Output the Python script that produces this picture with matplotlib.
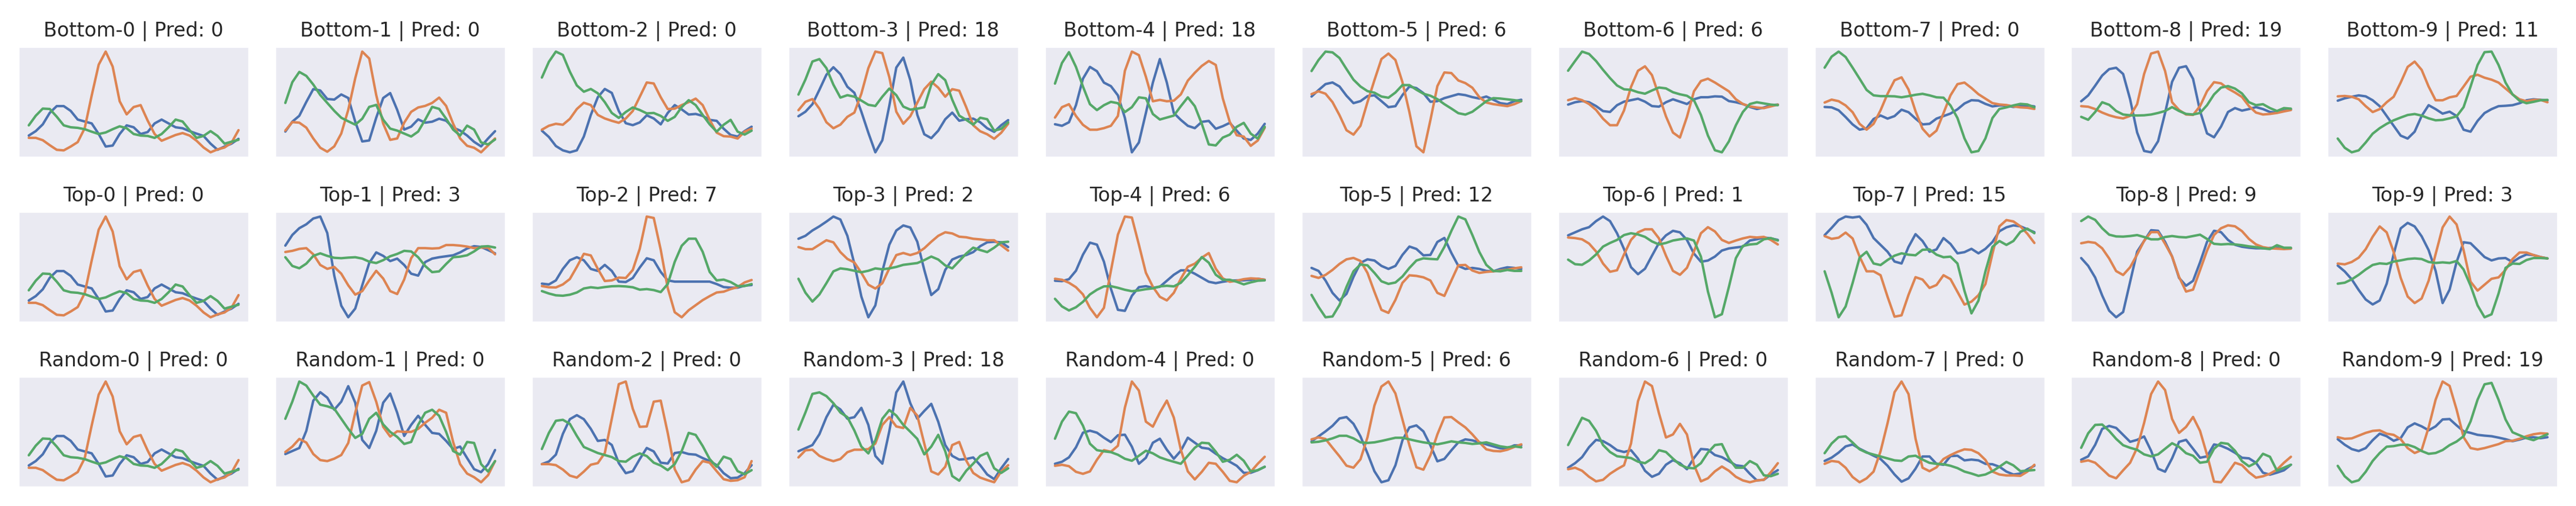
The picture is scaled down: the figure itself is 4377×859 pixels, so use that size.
import numpy as np
import matplotlib
matplotlib.use("Agg")
import matplotlib.pyplot as plt
import seaborn as sns

# channel values (ch0 = blue, ch1 = orange, ch2 = green)
s0_ch0 = [11.2, 13.5, 17.0, 23.0, 26.5, 26.5, 24.0, 19.5, 18.5, 17.5, 12.0, 5.5, 6.0, 12.0, 16.5, 15.5,
          12.0, 13.0, 17.5, 19.5, 17.5, 15.5, 15.0, 13.5, 12.2, 11.0, 7.0, 3.8, 5.5, 7.0, 9.5]
s0_ch1 = [10.0, 10.0, 8.8, 6.2, 3.8, 3.5, 5.5, 7.8, 15.0, 32.0, 48.0, 54.8, 47.0, 29.0, 22.2, 26.0,
          27.0, 19.0, 12.0, 8.5, 10.0, 11.5, 12.5, 11.2, 8.5, 5.0, 2.5, 4.0, 5.0, 7.5, 14.0]
s0_ch2 = [16.5, 21.5, 25.2, 25.0, 21.0, 16.5, 15.5, 15.2, 14.5, 13.2, 12.0, 12.8, 14.5, 16.0, 15.0, 12.0,
          11.2, 11.0, 10.0, 12.0, 15.5, 19.5, 18.5, 14.0, 10.0, 11.0, 13.5, 11.0, 7.0, 8.0, 9.0]

b1_ch0 = [13.0, 18.0, 21.0, 28.0, 34.5, 33.8, 29.5, 29.2, 31.8, 30.0, 18.0, 8.0, 8.5, 20.0, 30.0, 32.5,
          24.0, 14.0, 15.5, 19.2, 17.5, 18.0, 19.5, 18.5, 15.0, 13.5, 11.0, 7.8, 5.5, 9.5, 13.2]
b1_ch1 = [13.5, 17.8, 17.5, 15.0, 9.5, 4.8, 2.8, 5.5, 12.0, 24.0, 40.0, 53.5, 50.0, 31.5, 17.0, 8.8,
          9.5, 17.5, 23.0, 25.2, 26.0, 27.5, 30.2, 26.0, 17.0, 9.5, 5.8, 4.8, 2.5, 6.0, 9.5]
b1_ch2 = [27.5, 38.0, 43.2, 41.2, 36.8, 31.5, 27.5, 23.5, 20.0, 18.2, 16.5, 19.5, 25.5, 26.5, 19.0, 14.5,
          13.5, 12.0, 10.5, 13.0, 19.0, 25.5, 24.5, 19.5, 14.0, 11.0, 16.0, 14.0, 7.5, 6.5, 9.0]

b2_ch0 = [14.0, 10.8, 6.2, 4.0, 3.0, 4.0, 11.0, 22.0, 31.0, 35.2, 33.2, 24.0, 17.8, 16.8, 18.2, 21.8,
          20.2, 17.2, 23.0, 27.0, 24.8, 22.2, 22.5, 21.5, 19.5, 19.0, 15.0, 11.8, 11.0, 13.8, 16.0]
b2_ch1 = [14.5, 16.5, 17.5, 17.0, 20.0, 25.0, 28.2, 27.0, 22.0, 20.2, 19.0, 18.0, 20.2, 24.0, 31.2, 38.5,
          38.0, 31.0, 25.0, 25.2, 27.0, 28.5, 30.3, 27.0, 19.5, 13.0, 11.2, 11.0, 10.0, 13.5, 15.0]
b2_ch2 = [41.0, 49.0, 54.2, 52.5, 44.0, 37.0, 33.8, 35.2, 33.0, 28.5, 23.0, 20.5, 23.5, 25.8, 24.5, 22.8,
          23.0, 21.5, 19.0, 21.0, 26.0, 29.5, 27.0, 22.0, 17.2, 13.5, 17.0, 19.5, 13.5, 12.0, 14.0]

b3_ch0 = [18.0, 19.5, 22.0, 26.8, 31.8, 34.3, 32.0, 27.8, 25.8, 19.5, 12.5, 6.0, 10.0, 21.5, 34.2, 37.5,
          30.0, 18.5, 12.0, 10.7, 13.2, 17.0, 19.2, 16.5, 17.0, 17.2, 16.0, 14.0, 12.8, 15.0, 16.7]
b3_ch1 = [20.0, 22.8, 23.7, 20.5, 16.0, 14.0, 15.2, 17.8, 19.2, 25.5, 34.0, 39.5, 39.0, 31.0, 19.5, 15.5,
          18.0, 22.5, 27.0, 29.5, 27.5, 24.5, 27.0, 26.5, 21.0, 15.0, 13.0, 12.0, 10.5, 12.5, 15.5]
b3_ch2 = [25.2, 30.2, 36.2, 37.0, 34.0, 28.5, 24.2, 25.0, 24.5, 23.2, 21.8, 21.4, 24.5, 27.2, 25.0, 21.2,
          20.2, 20.5, 21.0, 28.5, 32.0, 30.0, 23.5, 18.2, 16.8, 15.2, 17.5, 17.0, 13.2, 13.8, 16.0]

b4_ch0 = [16.8, 16.0, 17.8, 26.5, 40.0, 46.0, 43.8, 38.0, 36.2, 31.5, 20.0, 2.5, 7.5, 22.5, 38.0, 50.0,
          38.0, 22.5, 19.0, 16.0, 14.8, 18.0, 18.5, 14.5, 15.8, 17.5, 13.5, 9.5, 8.8, 12.0, 17.0]
b4_ch1 = [20.2, 25.5, 27.0, 21.0, 16.5, 14.0, 14.0, 14.8, 16.0, 21.0, 44.0, 53.8, 52.0, 41.0, 28.5, 29.2,
          28.5, 28.8, 32.0, 39.0, 43.0, 46.5, 49.0, 47.0, 30.0, 18.0, 11.2, 10.5, 5.8, 8.5, 15.0]
b4_ch2 = [37.5, 48.0, 53.5, 46.0, 36.0, 27.0, 24.0, 26.5, 28.2, 27.5, 23.0, 25.5, 30.5, 30.0, 22.0, 19.2,
          20.2, 21.2, 26.0, 30.5, 26.0, 17.0, 6.5, 6.0, 10.0, 11.5, 15.5, 17.5, 12.0, 9.5, 15.5]

b5_ch0 = [31.8, 35.0, 38.0, 38.8, 36.8, 32.2, 28.5, 29.5, 32.0, 32.4, 29.5, 26.5, 27.0, 32.5, 36.8, 36.0,
          33.5, 29.2, 29.5, 31.0, 32.0, 33.0, 32.5, 31.5, 30.8, 31.8, 30.2, 28.5, 28.0, 29.5, 30.2]
b5_ch1 = [33.0, 34.4, 33.2, 29.0, 22.5, 15.0, 12.8, 17.2, 29.0, 40.0, 50.5, 53.2, 50.0, 39.0, 24.0, 7.0,
          4.0, 20.0, 37.0, 43.8, 43.5, 39.8, 38.5, 36.2, 31.5, 28.8, 28.0, 27.5, 27.0, 28.0, 29.5]
b5_ch2 = [44.5, 50.0, 54.2, 53.8, 51.0, 45.5, 40.2, 36.8, 34.5, 33.7, 31.8, 31.2, 33.8, 37.5, 37.5, 35.2,
          33.2, 32.2, 30.5, 28.0, 25.8, 23.5, 22.8, 24.2, 26.8, 29.5, 31.0, 30.8, 30.4, 30.0, 29.5]

b6_ch0 = [22.0, 22.8, 23.2, 22.8, 21.5, 19.8, 19.5, 21.8, 23.0, 23.5, 24.0, 23.0, 21.5, 21.3, 22.8, 23.8,
          23.0, 22.2, 23.8, 24.5, 24.5, 24.8, 24.7, 23.2, 22.8, 22.2, 21.2, 20.5, 21.0, 21.8, 22.0]
b6_ch1 = [23.5, 24.2, 23.5, 22.2, 20.2, 17.2, 15.0, 15.0, 20.0, 28.0, 33.5, 35.0, 32.0, 25.0, 18.0, 12.5,
          10.8, 17.8, 26.5, 30.0, 30.8, 29.5, 28.0, 26.5, 23.8, 22.2, 21.4, 21.0, 20.8, 21.4, 22.0]
b6_ch2 = [33.5, 36.8, 40.0, 39.2, 36.8, 33.8, 31.0, 28.5, 27.2, 27.0, 26.2, 25.7, 26.8, 27.8, 27.5, 26.2,
          25.5, 25.0, 23.5, 18.5, 11.5, 6.5, 5.8, 9.5, 15.0, 19.5, 22.2, 22.8, 22.4, 22.0, 21.8]

b7_ch0 = [26.2, 26.0, 24.5, 21.0, 17.2, 14.5, 15.2, 20.0, 21.8, 20.2, 21.5, 24.8, 23.5, 20.2, 17.2, 17.5,
          20.2, 21.5, 22.8, 25.0, 28.0, 29.7, 29.5, 27.8, 26.5, 27.0, 27.0, 26.2, 26.8, 27.0, 26.5]
b7_ch1 = [28.5, 30.0, 29.2, 27.0, 23.5, 17.5, 14.5, 17.5, 24.5, 33.0, 40.0, 41.5, 35.2, 24.0, 15.0, 11.0,
          14.0, 23.0, 32.2, 38.0, 38.8, 36.0, 32.8, 30.5, 28.2, 27.5, 27.2, 26.5, 26.0, 25.8, 25.2]
b7_ch2 = [46.5, 52.2, 54.8, 52.0, 46.5, 40.8, 35.0, 32.2, 31.8, 31.8, 31.7, 31.2, 31.8, 32.5, 33.0, 32.2,
          31.2, 31.0, 27.0, 20.5, 10.0, 2.8, 3.5, 10.0, 20.5, 25.2, 26.0, 27.0, 27.8, 27.5, 26.0]

b8_ch0 = [29.0, 32.0, 37.0, 42.2, 45.5, 46.2, 43.0, 30.0, 13.0, 3.5, 2.8, 8.5, 23.0, 39.0, 46.2, 47.0,
          40.5, 24.0, 12.5, 10.5, 16.0, 23.5, 25.5, 24.2, 25.0, 26.0, 25.0, 23.5, 23.2, 24.2, 24.8]
b8_ch1 = [26.5, 26.2, 25.0, 23.2, 21.8, 20.8, 20.2, 21.5, 27.5, 43.0, 53.5, 54.5, 44.5, 28.5, 24.5, 22.2,
          22.0, 26.5, 34.2, 38.8, 38.2, 35.5, 33.5, 31.2, 26.5, 23.2, 22.2, 22.5, 23.0, 23.8, 24.5]
b8_ch2 = [21.0, 19.5, 23.5, 28.5, 27.2, 24.0, 22.2, 21.8, 21.7, 21.8, 22.2, 23.0, 24.0, 26.0, 24.0, 22.5,
          22.2, 23.0, 27.0, 32.5, 36.0, 36.8, 35.5, 33.0, 28.5, 27.0, 27.5, 25.5, 24.0, 25.5, 25.2]

b9_ch0 = [28.8, 30.0, 30.8, 31.5, 31.0, 29.0, 26.0, 21.0, 16.0, 11.0, 9.5, 13.0, 21.0, 26.5, 24.5, 22.2,
          23.2, 21.0, 14.0, 13.0, 18.5, 22.5, 24.5, 26.0, 26.2, 26.5, 27.5, 29.0, 29.5, 29.2, 29.0]
b9_ch1 = [31.0, 31.2, 30.8, 29.5, 26.0, 23.0, 24.5, 28.0, 30.8, 38.0, 46.0, 48.7, 44.5, 36.0, 29.0, 29.0,
          30.5, 31.2, 36.0, 41.0, 42.0, 40.5, 39.5, 38.0, 35.0, 32.0, 29.5, 28.5, 29.2, 29.2, 28.0]
b9_ch2 = [9.5, 4.8, 2.5, 3.5, 7.5, 12.0, 14.8, 17.0, 18.8, 20.2, 21.5, 22.0, 21.2, 19.8, 18.8, 19.0,
          19.8, 20.8, 25.5, 36.0, 47.0, 53.5, 53.8, 47.0, 38.0, 32.0, 28.8, 27.5, 28.2, 29.0, 29.2]

t1_ch0 = [40.5, 46.0, 49.5, 51.5, 54.5, 55.5, 47.0, 25.0, 9.5, 3.5, 8.0, 20.0, 31.5, 37.0, 35.2, 32.5,
          33.8, 30.5, 26.0, 25.0, 32.0, 33.8, 34.5, 35.0, 35.5, 37.0, 39.0, 40.2, 39.8, 38.2, 36.5]
t1_ch1 = [37.2, 37.8, 38.8, 39.2, 36.0, 30.5, 28.5, 29.5, 26.0, 20.0, 15.2, 17.0, 22.5, 27.5, 23.5, 17.0,
          15.5, 23.0, 34.0, 39.2, 39.2, 39.0, 39.2, 40.8, 40.8, 40.5, 40.0, 39.2, 39.5, 39.5, 36.0]
t1_ch2 = [34.5, 30.0, 28.8, 31.2, 35.2, 36.5, 35.2, 34.2, 34.0, 34.3, 34.5, 33.8, 32.2, 31.5, 33.0, 35.0,
          36.2, 37.8, 37.5, 34.5, 30.0, 26.8, 27.2, 31.0, 34.5, 34.8, 35.5, 37.5, 40.0, 40.2, 39.5]

t2_ch0 = [21.2, 20.8, 22.8, 28.5, 32.8, 34.3, 32.8, 28.5, 27.5, 30.5, 27.5, 22.2, 22.0, 24.0, 29.2, 33.8,
          32.8, 27.0, 22.8, 22.2, 22.2, 22.2, 22.2, 22.2, 22.2, 21.0, 19.5, 19.2, 19.2, 20.2, 20.5]
t2_ch1 = [20.0, 19.4, 19.3, 20.8, 23.5, 29.5, 36.0, 35.2, 28.5, 22.5, 22.8, 24.2, 24.0, 28.0, 38.5, 54.5,
          53.8, 38.0, 19.0, 7.0, 4.5, 8.0, 10.5, 13.0, 15.0, 16.8, 17.2, 18.5, 19.5, 21.8, 23.0]
t2_ch2 = [17.5, 16.3, 15.4, 15.2, 15.7, 16.8, 18.8, 19.4, 19.0, 19.5, 19.9, 20.0, 19.8, 19.4, 18.2, 18.5,
          18.0, 17.0, 21.0, 32.0, 40.0, 43.5, 43.5, 37.0, 27.0, 22.8, 23.2, 22.0, 20.0, 20.0, 21.0]

t3_ch0 = [31.0, 32.0, 33.8, 35.2, 36.8, 38.5, 37.5, 32.0, 22.5, 11.5, 4.5, 8.5, 20.0, 29.0, 33.8, 35.5,
          34.8, 30.0, 20.5, 12.0, 14.0, 20.5, 24.0, 25.0, 25.5, 26.5, 28.5, 29.8, 30.0, 29.8, 28.2]
t3_ch1 = [28.2, 27.5, 27.5, 29.0, 30.5, 29.8, 26.5, 24.2, 23.0, 19.5, 15.5, 14.2, 16.0, 21.0, 25.5, 26.2,
          25.5, 26.2, 27.8, 30.0, 32.0, 33.2, 32.8, 31.7, 31.5, 31.0, 30.8, 30.5, 30.5, 28.8, 27.0]
t3_ch2 = [17.5, 12.8, 9.8, 12.2, 16.0, 20.0, 21.0, 20.7, 20.2, 19.7, 20.2, 21.0, 20.7, 21.0, 21.5, 22.2,
          22.5, 22.8, 23.8, 25.0, 24.0, 22.0, 21.0, 23.5, 26.0, 28.0, 27.2, 26.5, 28.0, 29.8, 30.0]

t4_ch0 = [22.0, 21.8, 22.8, 27.0, 35.0, 41.0, 40.0, 31.5, 18.0, 7.5, 7.0, 14.5, 18.8, 19.3, 18.5, 19.0,
          22.0, 25.0, 27.2, 27.2, 25.5, 23.5, 21.5, 20.8, 21.5, 22.0, 22.2, 22.2, 22.5, 23.0, 22.5]
t4_ch1 = [23.0, 22.5, 21.0, 18.8, 15.2, 8.5, 3.8, 8.5, 27.0, 45.0, 54.0, 53.5, 40.0, 26.0, 19.0, 14.0,
          12.2, 16.0, 23.0, 29.0, 30.5, 33.5, 35.8, 28.0, 23.2, 21.5, 22.0, 22.8, 23.2, 23.0, 22.5]
t4_ch2 = [13.0, 9.2, 7.2, 8.8, 11.5, 15.2, 17.5, 19.2, 19.3, 18.5, 17.5, 16.8, 17.2, 17.8, 18.2, 19.2,
          19.5, 19.2, 21.0, 24.8, 29.0, 33.8, 31.0, 25.0, 22.5, 22.5, 21.5, 20.2, 21.2, 22.0, 22.2]

t5_ch0 = [29.5, 28.0, 23.2, 17.0, 13.2, 16.5, 25.0, 32.0, 33.8, 33.2, 30.5, 29.0, 30.5, 36.0, 40.2, 39.0,
          35.8, 36.0, 42.5, 44.5, 37.0, 30.5, 29.0, 29.5, 29.0, 28.0, 27.8, 29.0, 29.8, 29.5, 29.0]
t5_ch1 = [25.5, 24.5, 26.0, 28.5, 31.5, 33.8, 34.5, 33.0, 27.0, 17.5, 8.5, 7.0, 13.5, 22.0, 25.8, 25.5,
          24.8, 23.2, 17.0, 15.5, 23.2, 30.8, 31.0, 28.2, 27.0, 27.5, 27.8, 28.2, 28.6, 29.3, 29.8]
t5_ch2 = [16.0, 10.0, 4.8, 5.2, 11.0, 20.0, 27.8, 31.2, 30.8, 27.0, 22.8, 21.5, 22.2, 25.2, 29.5, 33.2,
          34.3, 34.0, 33.8, 40.0, 48.0, 55.2, 53.8, 46.0, 37.5, 31.0, 28.0, 27.8, 28.5, 28.0, 28.0]

t6_ch0 = [32.5, 33.5, 34.5, 35.2, 37.2, 38.7, 37.2, 33.2, 28.0, 22.0, 19.7, 21.5, 25.8, 30.0, 32.5, 34.0,
          33.5, 31.0, 26.5, 23.8, 24.2, 25.5, 27.5, 28.2, 28.5, 28.8, 30.8, 31.2, 31.8, 31.5, 31.0]
t6_ch1 = [31.8, 31.6, 31.2, 29.8, 27.2, 23.2, 20.5, 21.0, 26.2, 31.0, 33.5, 34.5, 34.5, 31.5, 25.8, 20.8,
          19.5, 21.8, 27.2, 33.2, 35.2, 33.8, 31.0, 30.0, 30.8, 31.5, 32.0, 31.8, 32.0, 31.0, 29.5]
t6_ch2 = [24.5, 23.0, 22.8, 24.2, 26.2, 28.8, 30.0, 31.0, 32.6, 33.2, 32.8, 32.0, 30.5, 29.5, 30.0, 30.8,
          31.2, 31.5, 30.8, 25.5, 14.0, 5.5, 6.5, 15.5, 25.0, 29.0, 29.5, 29.7, 31.2, 31.6, 30.8]

t7_ch0 = [46.5, 50.2, 54.2, 56.0, 55.5, 56.0, 51.8, 45.0, 41.5, 38.0, 33.0, 32.0, 40.5, 47.0, 43.5, 38.0,
          39.2, 45.0, 42.0, 37.2, 37.8, 39.5, 37.2, 39.5, 43.0, 48.5, 50.5, 51.5, 51.0, 49.5, 48.0]
t7_ch1 = [46.0, 44.6, 45.2, 47.8, 44.8, 35.5, 28.0, 28.0, 26.0, 15.0, 4.8, 5.5, 16.0, 25.0, 23.8, 19.5,
          21.0, 26.0, 24.0, 17.5, 11.0, 12.5, 15.8, 21.5, 37.0, 51.0, 54.2, 53.5, 51.0, 47.2, 42.5]
t7_ch2 = [28.0, 17.0, 4.5, 10.0, 22.0, 35.0, 38.0, 32.0, 31.2, 33.8, 36.0, 37.2, 36.5, 36.2, 39.0, 39.2,
          36.5, 35.2, 35.5, 32.0, 18.0, 6.5, 13.0, 28.0, 40.5, 43.5, 41.5, 43.5, 48.2, 49.8, 47.5]

t8_ch0 = [34.2, 30.2, 24.2, 15.0, 7.2, 3.8, 6.5, 22.0, 37.5, 43.0, 48.5, 48.2, 42.5, 35.0, 24.0, 20.0,
          22.5, 32.0, 42.5, 48.2, 47.5, 43.5, 41.0, 40.0, 39.5, 39.2, 39.2, 39.4, 39.5, 39.2, 39.2]
t8_ch1 = [41.8, 42.5, 42.0, 39.2, 34.0, 27.5, 25.5, 29.5, 36.0, 43.0, 47.5, 47.5, 41.5, 35.0, 24.5, 17.0,
          18.0, 28.0, 38.0, 46.0, 49.5, 51.0, 50.5, 48.0, 44.0, 41.2, 39.8, 39.2, 39.0, 38.8, 39.0]
t8_ch2 = [53.2, 55.5, 53.8, 49.5, 46.2, 45.3, 45.2, 45.5, 46.0, 45.0, 43.8, 43.8, 45.0, 45.5, 45.0, 44.8,
          45.5, 46.2, 44.0, 41.5, 41.2, 41.4, 41.2, 40.8, 40.2, 39.8, 39.2, 38.8, 40.8, 39.5, 39.5]

t9_ch0 = [30.2, 27.2, 23.2, 17.8, 13.0, 10.5, 12.5, 21.0, 36.0, 49.0, 51.8, 50.0, 45.0, 38.0, 27.5, 11.2,
          18.0, 32.0, 42.0, 41.5, 38.0, 34.5, 32.8, 33.8, 34.0, 32.0, 34.2, 35.8, 35.5, 34.5, 33.8]
t9_ch1 = [31.2, 30.8, 32.0, 34.2, 38.5, 44.8, 50.0, 47.0, 37.0, 24.0, 14.5, 11.2, 13.5, 22.5, 36.0, 49.5,
          55.0, 51.0, 38.0, 22.0, 17.5, 20.5, 23.5, 24.2, 28.0, 33.5, 36.8, 36.8, 35.5, 34.5, 33.8]
t9_ch2 = [21.0, 21.5, 23.2, 25.5, 28.2, 30.5, 31.3, 31.0, 32.2, 32.8, 33.5, 33.8, 33.5, 32.0, 31.5, 31.8,
          31.5, 32.5, 28.2, 20.0, 10.0, 4.0, 5.5, 16.0, 29.0, 31.2, 31.0, 33.0, 34.0, 34.0, 33.8]

r1_ch0 = [19.5, 21.0, 22.5, 31.0, 46.0, 50.2, 47.5, 41.5, 45.5, 53.2, 45.0, 26.5, 22.5, 31.0, 45.0, 49.5,
          40.0, 28.5, 34.0, 38.5, 34.0, 30.0, 29.5, 26.0, 22.0, 23.2, 17.5, 12.0, 10.5, 14.5, 21.5]
r1_ch1 = [20.5, 23.2, 27.0, 25.2, 19.5, 16.5, 16.0, 17.2, 19.0, 25.0, 40.0, 53.5, 55.2, 45.5, 33.0, 28.2,
          30.8, 30.5, 30.5, 32.0, 35.0, 37.5, 41.5, 40.0, 25.5, 14.5, 9.8, 8.0, 5.5, 9.0, 16.0]
r1_ch2 = [37.0, 45.5, 55.5, 53.5, 48.5, 44.0, 43.2, 42.0, 37.0, 32.0, 27.5, 29.5, 37.0, 40.0, 34.2, 30.5,
          28.0, 24.5, 25.5, 34.0, 40.0, 41.5, 38.5, 30.5, 21.0, 19.2, 25.5, 25.0, 14.5, 10.8, 16.0]

r2_ch0 = [14.5, 15.8, 19.2, 29.5, 36.8, 38.8, 36.8, 32.0, 26.0, 26.5, 24.0, 15.0, 10.0, 11.0, 17.0, 22.5,
          20.8, 15.2, 14.8, 20.0, 20.5, 19.5, 19.2, 17.5, 16.0, 14.0, 10.0, 7.5, 7.8, 10.0, 14.0]
r2_ch1 = [14.5, 14.5, 14.0, 11.8, 8.8, 7.8, 10.8, 14.2, 15.0, 20.0, 37.0, 54.2, 55.5, 42.0, 33.0, 33.2,
          45.5, 46.0, 30.0, 12.0, 5.5, 6.5, 11.8, 16.0, 15.2, 11.0, 7.0, 6.2, 6.5, 8.0, 16.0]
r2_ch2 = [22.0, 30.0, 36.0, 36.5, 34.5, 28.5, 23.0, 21.5, 20.0, 19.0, 18.0, 16.0, 15.7, 18.2, 19.8, 18.5,
          15.2, 13.8, 11.5, 14.5, 21.0, 30.0, 29.0, 23.5, 17.0, 13.2, 18.2, 17.0, 11.0, 9.5, 11.5]

r3_ch0 = [14.5, 15.5, 16.5, 20.0, 25.5, 29.5, 28.0, 25.0, 25.5, 28.5, 23.0, 13.0, 10.5, 21.0, 33.5, 37.0,
          30.0, 25.0, 27.5, 29.8, 24.0, 16.5, 13.0, 11.8, 12.0, 12.5, 10.0, 7.0, 5.5, 9.0, 12.0]
r3_ch1 = [12.5, 14.8, 15.0, 13.0, 12.0, 11.3, 12.0, 14.2, 15.0, 15.0, 15.2, 17.0, 23.0, 25.5, 22.5, 22.0,
          28.5, 26.0, 17.0, 8.0, 7.0, 9.5, 16.5, 17.5, 11.5, 7.5, 6.0, 5.2, 4.5, 8.0, 10.0]
r3_ch2 = [21.5, 27.0, 33.0, 33.5, 32.3, 30.0, 27.0, 25.5, 21.2, 16.0, 13.8, 18.0, 25.0, 27.8, 26.0, 23.0,
          20.8, 18.5, 13.5, 16.0, 19.8, 14.5, 6.5, 5.0, 8.2, 10.5, 13.0, 14.0, 9.0, 7.5, 9.0]

r4_ch0 = [15.0, 16.0, 18.2, 23.2, 30.5, 31.5, 30.5, 28.0, 25.8, 29.2, 29.5, 23.5, 15.0, 18.0, 25.5, 27.5,
          22.0, 17.5, 21.5, 28.0, 25.5, 23.0, 22.5, 20.0, 17.8, 16.0, 14.0, 10.5, 10.5, 11.8, 13.5]
r4_ch1 = [14.0, 14.5, 13.8, 11.0, 10.0, 11.2, 17.0, 21.8, 21.0, 24.0, 43.0, 56.0, 51.5, 36.0, 33.5, 40.5,
          46.5, 38.0, 22.0, 11.2, 7.2, 11.0, 15.5, 15.0, 11.0, 6.5, 5.8, 9.0, 11.0, 15.0, 18.5]
r4_ch2 = [27.5, 36.0, 41.0, 40.2, 34.0, 25.0, 21.8, 21.2, 20.8, 19.5, 17.5, 16.5, 19.0, 21.5, 20.2, 18.2,
          17.0, 16.0, 15.0, 19.0, 23.0, 25.5, 25.2, 21.0, 16.0, 17.0, 19.5, 16.5, 11.2, 11.8, 13.5]

r5_ch0 = [26.0, 28.5, 31.0, 33.8, 37.5, 38.2, 34.8, 28.5, 20.0, 11.0, 5.5, 6.5, 14.0, 26.5, 33.0, 34.0,
          31.0, 24.0, 16.0, 17.2, 21.5, 25.5, 27.0, 26.5, 25.5, 24.5, 23.5, 22.5, 22.5, 24.0, 24.0]
r5_ch1 = [27.0, 28.0, 27.2, 22.8, 18.5, 13.8, 12.8, 17.0, 28.0, 44.0, 53.5, 56.0, 50.0, 37.0, 24.0, 13.0,
          11.8, 19.0, 29.5, 38.0, 38.2, 35.5, 33.0, 29.5, 25.5, 22.0, 21.2, 21.0, 21.8, 23.2, 24.5]
r5_ch2 = [25.5, 25.8, 26.5, 27.5, 28.8, 28.8, 27.5, 25.5, 25.2, 25.5, 26.2, 27.0, 27.8, 27.8, 27.0, 26.2,
          25.5, 25.0, 24.5, 25.2, 26.0, 25.5, 25.2, 24.7, 25.0, 25.5, 24.5, 23.5, 23.0, 23.5, 23.0]

r6_ch0 = [9.0, 10.5, 12.5, 15.8, 18.2, 17.8, 16.5, 14.8, 14.2, 14.8, 12.0, 8.0, 6.0, 7.0, 10.0, 11.5,
          10.5, 8.5, 12.2, 15.2, 15.0, 13.2, 12.5, 11.2, 9.8, 9.5, 7.0, 4.8, 5.0, 6.8, 8.2]
r6_ch1 = [8.5, 9.0, 8.0, 6.0, 4.5, 5.0, 7.0, 8.5, 9.8, 17.0, 31.0, 37.5, 36.0, 27.0, 19.0, 20.0,
          23.5, 20.0, 10.0, 4.5, 5.5, 7.8, 9.4, 8.0, 6.0, 4.8, 4.2, 4.8, 5.0, 7.5, 10.5]
r6_ch2 = [16.5, 21.0, 25.5, 24.5, 21.2, 16.5, 14.2, 12.8, 12.5, 12.2, 11.0, 10.5, 12.0, 14.8, 14.2, 12.0,
          10.0, 9.0, 8.8, 10.5, 14.0, 16.5, 16.8, 12.0, 9.0, 9.0, 11.2, 10.0, 6.5, 6.2, 7.0]

r7_ch0 = [16.5, 18.2, 20.8, 24.0, 25.0, 22.8, 21.0, 19.2, 17.5, 14.0, 9.5, 5.8, 7.5, 12.5, 18.8, 18.8,
          15.0, 14.5, 19.0, 19.2, 16.8, 17.2, 16.8, 15.0, 14.8, 13.5, 11.0, 9.5, 10.0, 12.2, 14.0]
r7_ch1 = [15.0, 16.5, 16.0, 13.0, 8.2, 5.5, 7.5, 11.0, 21.5, 36.0, 52.0, 57.5, 51.0, 28.0, 13.0, 11.2,
          13.2, 17.5, 19.5, 21.2, 22.5, 22.2, 20.5, 17.0, 11.0, 9.5, 9.0, 9.0, 8.8, 11.0, 14.5]
r7_ch2 = [20.5, 25.5, 28.8, 29.2, 26.0, 22.5, 20.8, 19.8, 18.8, 17.8, 16.8, 16.5, 18.8, 19.2, 17.2, 15.5,
          15.0, 14.8, 14.0, 12.8, 11.0, 10.0, 8.8, 9.5, 11.2, 13.5, 16.0, 14.2, 11.2, 11.5, 11.8]

r8_ch0 = [17.5, 19.2, 25.0, 33.0, 34.5, 33.5, 30.0, 26.5, 27.5, 29.2, 22.0, 13.0, 11.5, 18.2, 26.5, 27.5,
          23.0, 18.5, 19.2, 25.2, 24.5, 23.0, 21.0, 18.5, 18.2, 16.0, 11.0, 10.0, 11.0, 12.2, 15.0]
r8_ch1 = [16.5, 17.2, 16.0, 12.8, 9.5, 8.2, 12.2, 16.0, 23.5, 36.0, 50.5, 56.8, 52.5, 38.0, 31.0, 34.0,
          39.0, 32.0, 20.0, 6.5, 6.2, 11.0, 16.0, 14.8, 11.2, 8.5, 9.2, 10.5, 12.5, 16.0, 19.0]
r8_ch2 = [23.5, 30.8, 35.0, 35.2, 32.0, 28.0, 24.8, 23.5, 22.5, 20.2, 19.2, 20.2, 23.0, 25.8, 24.0, 20.8,
          19.5, 16.0, 16.5, 23.0, 26.0, 25.5, 22.0, 16.8, 14.2, 16.0, 20.5, 19.0, 12.0, 13.5, 15.0]

r9_ch0 = [27.0, 24.2, 22.0, 21.0, 22.5, 26.5, 29.8, 28.5, 26.2, 27.5, 33.0, 35.0, 33.5, 31.5, 33.5, 37.0,
          37.2, 34.0, 31.0, 30.2, 29.2, 28.8, 28.5, 27.8, 27.0, 26.0, 26.8, 27.8, 28.0, 27.5, 28.0]
r9_ch1 = [28.0, 27.2, 27.4, 28.8, 30.2, 31.2, 31.5, 29.8, 29.2, 27.0, 22.5, 20.0, 21.5, 33.0, 47.0, 56.2,
          54.0, 42.0, 28.0, 22.5, 21.8, 22.5, 23.5, 24.5, 26.0, 26.2, 27.2, 28.5, 29.5, 30.0, 29.8]
r9_ch2 = [13.5, 8.2, 5.2, 6.2, 10.5, 16.0, 20.0, 23.2, 23.5, 24.2, 24.2, 23.0, 21.0, 19.6, 20.0, 21.5,
          24.0, 25.8, 28.5, 36.0, 47.0, 54.8, 55.5, 47.0, 37.0, 30.5, 29.0, 27.5, 26.5, 28.0, 29.5]

row_names = ["Bottom", "Top", "Random"]
bottom_preds = [0, 0, 0, 18, 18, 6, 6, 0, 19, 11]
top_preds = [0, 3, 7, 2, 6, 12, 1, 15, 9, 3]
random_preds = [0, 0, 0, 18, 0, 6, 0, 0, 0, 19]

s0 = (s0_ch0, s0_ch1, s0_ch2)
bottom_samples = [s0, (b1_ch0, b1_ch1, b1_ch2), (b2_ch0, b2_ch1, b2_ch2), (b3_ch0, b3_ch1, b3_ch2),
                  (b4_ch0, b4_ch1, b4_ch2), (b5_ch0, b5_ch1, b5_ch2), (b6_ch0, b6_ch1, b6_ch2),
                  (b7_ch0, b7_ch1, b7_ch2), (b8_ch0, b8_ch1, b8_ch2), (b9_ch0, b9_ch1, b9_ch2)]
top_samples = [s0, (t1_ch0, t1_ch1, t1_ch2), (t2_ch0, t2_ch1, t2_ch2), (t3_ch0, t3_ch1, t3_ch2),
               (t4_ch0, t4_ch1, t4_ch2), (t5_ch0, t5_ch1, t5_ch2), (t6_ch0, t6_ch1, t6_ch2),
               (t7_ch0, t7_ch1, t7_ch2), (t8_ch0, t8_ch1, t8_ch2), (t9_ch0, t9_ch1, t9_ch2)]
random_samples = [s0, (r1_ch0, r1_ch1, r1_ch2), (r2_ch0, r2_ch1, r2_ch2), (r3_ch0, r3_ch1, r3_ch2),
                  (r4_ch0, r4_ch1, r4_ch2), (r5_ch0, r5_ch1, r5_ch2), (r6_ch0, r6_ch1, r6_ch2),
                  (r7_ch0, r7_ch1, r7_ch2), (r8_ch0, r8_ch1, r8_ch2), (r9_ch0, r9_ch1, r9_ch2)]

sns.set_theme()
colors = sns.color_palette("deep")

fig, axes = plt.subplots(3, 10, figsize=(4377 / 200, 859 / 200), dpi=200)
fig.subplots_adjust(left=0.0071, right=0.9930, bottom=0.037, top=0.908, wspace=0.112, hspace=0.489)

rows = [(bottom_samples, bottom_preds), (top_samples, top_preds), (random_samples, random_preds)]
for r, (samples, preds) in enumerate(rows):
    for c in range(10):
        ax = axes[r, c]
        for k, series in enumerate(samples[c]):
            x = np.arange(len(series))
            ax.plot(x, series, color=colors[k], linewidth=1.5)
        ax.set_title(f"{row_names[r]}-{c} | Pred: {preds[c]}", fontsize=12)
        ax.set_xticks([])
        ax.set_yticks([])

fig.savefig("out.png", dpi=200)
